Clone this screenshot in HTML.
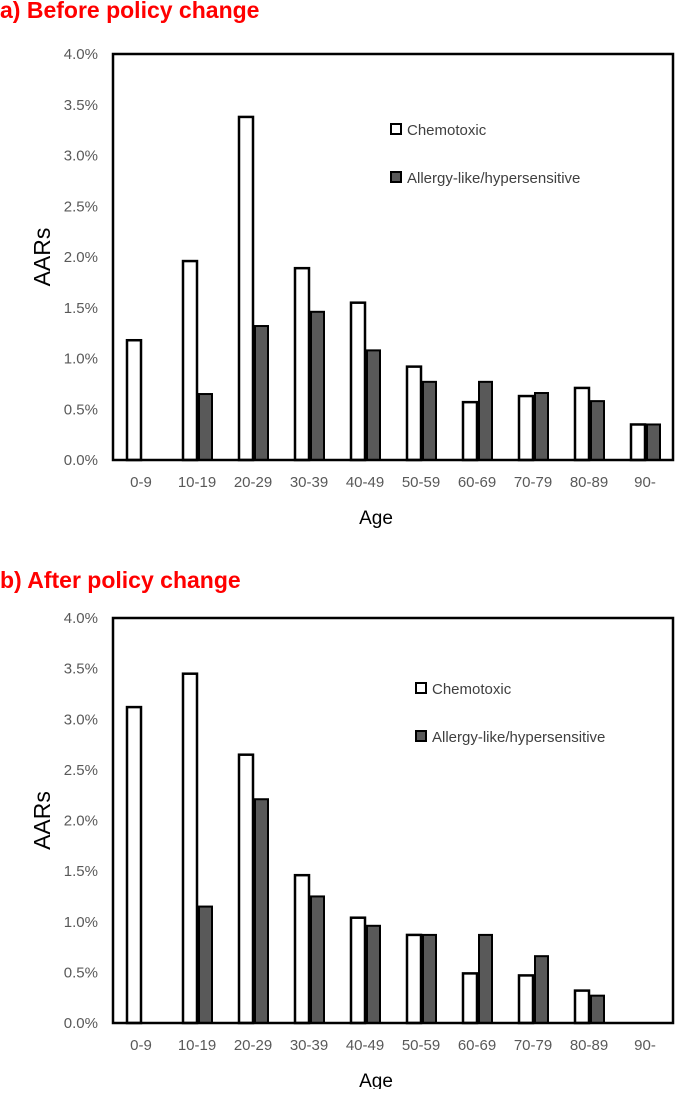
<!DOCTYPE html>
<html><head><meta charset="utf-8">
<style>
body{margin:0;background:#fff;width:685px;height:1089px;overflow:hidden;font-family:"Liberation Sans",sans-serif}
svg text{font-family:"Liberation Sans",sans-serif}
</style></head>
<body>
<svg id="s" width="685" height="1089">
<text x="0" y="18" font-size="23" font-weight="bold" fill="#ff0000">a) Before policy change</text>
<text x="0" y="588" font-size="23" font-weight="bold" fill="#ff0000">b) After policy change</text>
</svg>
<script>
const categories=["0-9","10-19","20-29","30-39","40-49","50-59","60-69","70-79","80-89","90-"];
const chemoBefore=[1.18,1.96,3.38,1.89,1.55,0.92,0.57,0.63,0.71,0.35];
const allergyBefore=[0,0.65,1.32,1.46,1.08,0.77,0.77,0.66,0.58,0.35];
const chemoAfter=[3.12,3.45,2.65,1.46,1.04,0.87,0.49,0.47,0.32,0];
const allergyAfter=[0,1.15,2.21,1.25,0.96,0.87,0.87,0.66,0.27,0];
const yTicks=[0,0.5,1.0,1.5,2.0,2.5,3.0,3.5,4.0];
const svg=document.getElementById('s');
const NS="http://www.w3.org/2000/svg";
function mk(t,a,txt){const e=document.createElementNS(NS,t);for(const k in a)e.setAttribute(k,a[k]);if(txt!==undefined)e.textContent=txt;svg.appendChild(e);return e;}
function panel(p,top,bottom,chemo,allergy,legX,legY){
  const L=113,R=673,cw=(R-L)/categories.length;
  const y=v=>bottom-(v/4)*(bottom-top);
  yTicks.forEach(t=>{
    const e=mk('text',{x:98,y:y(t)+5,'font-size':15,fill:'#595959','text-anchor':'end'},t.toFixed(1)+'%');
    
    
  });
  categories.forEach((c,i)=>{
    const cx=L+cw*(i+0.5);
    const e=mk('text',{x:cx,y:bottom+27,'font-size':15,fill:'#595959','text-anchor':'middle'},c);
    
    
    if(chemo[i]>0){
      const b=mk('rect',{x:cx-14,y:y(chemo[i]),width:14,height:bottom-y(chemo[i]),fill:'#fff',stroke:'#000','stroke-width':2.5});
      
      
    }
    if(allergy[i]>0){
      const b=mk('rect',{x:cx+2,y:y(allergy[i]),width:13,height:bottom-y(allergy[i]),fill:'#595959',stroke:'#000','stroke-width':2});
      
      
    }
  });
  const f=mk('rect',{x:L,y:top,width:R-L,height:bottom-top,fill:'none',stroke:'#000','stroke-width':2.5});
  
  
  const xt=mk('text',{x:(L+R)/2-17,y:bottom+64,'font-size':19,fill:'#000','text-anchor':'middle'},'Age');
  
  
  const cy=(top+bottom)/2;
  const yt=mk('text',{x:50,y:cy,'font-size':23,fill:'#000','text-anchor':'middle',transform:`rotate(-90 50 ${cy})`},'AARs');
  
  
  const s1=mk('rect',{x:legX,y:legY-6,width:10,height:10,fill:'#fff',stroke:'#000','stroke-width':2});
  
  
  const t1=mk('text',{x:legX+16,y:legY+5,'font-size':15,fill:'#404040'},'Chemotoxic');
  
  
  const s2=mk('rect',{x:legX,y:legY+42,width:10,height:10,fill:'#595959',stroke:'#000','stroke-width':2});
  
  
  const t2=mk('text',{x:legX+16,y:legY+53,'font-size':15,fill:'#404040'},'Allergy-like/hypersensitive');
  
  
}
panel('a',54,460,chemoBefore,allergyBefore,391,130);
panel('b',618,1023,chemoAfter,allergyAfter,416,689);
</script>
</body></html>
